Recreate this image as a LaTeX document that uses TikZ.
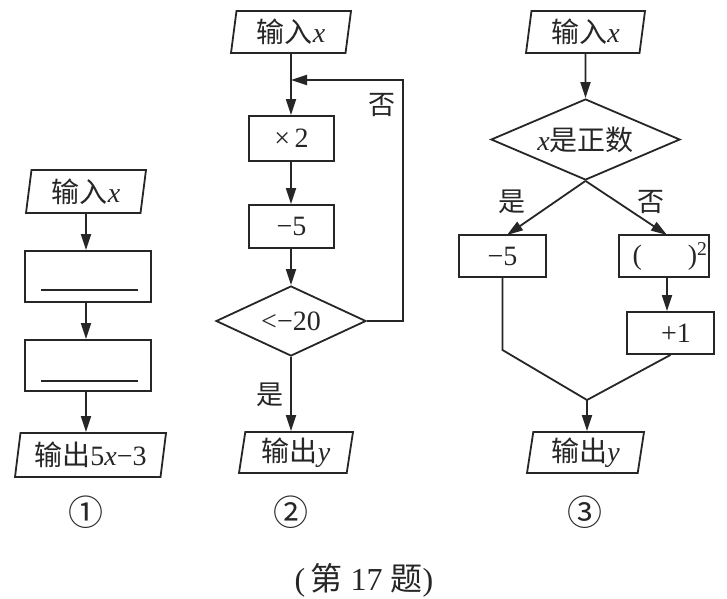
\documentclass[tikz,border=0pt]{standalone}
\usepackage{fontspec}
\setmainfont{Liberation Serif}
\newfontfamily\cjk{Noto Sans CJK SC}
\usetikzlibrary{shapes.geometric,arrows.meta,calc}
\tikzset{
  every node/.style={font=\fontsize{28}{32}\selectfont, inner sep=0pt, text=black!85},
  ln/.style={line width=1.8pt, draw=black!85},
  arr/.style={ln, -{Triangle[length=16pt,width=10pt]}},
  io/.style={ln, trapezium, trapezium left angle=78, trapezium right angle=102,
    trapezium stretches body},
  box/.style={ln, rectangle},
  dec/.style={ln, diamond, aspect=2.3},
  lbl/.style={font=\fontsize{27}{30}\selectfont\cjk},
  num/.style={font=\fontsize{35}{38}\selectfont\cjk}
}
\begin{document}
\begin{tikzpicture}[x=1pt,y=-1pt]
\useasboundingbox (0,0) rectangle (727,598);
\fill[white] (0,0) rectangle (727,598);

% ---------- diagram 1 ----------
\node[io, minimum width=120pt, minimum height=43pt] (in1) at (86,191.5) {{\cjk 输入}\textit{x}};
\node[box, minimum width=126pt, minimum height=51pt] (b1) at (88,276.5) {};
\node[box, minimum width=126pt, minimum height=51pt] (b2) at (88,365.5) {};
\node[io, minimum width=151pt, minimum height=44pt] (out1) at (90.5,455) {{\cjk 输出}5\textit{x}−3};
\draw[ln, line width=1.4pt] ($(b1.south west)+(17,-13)$) -- ($(b1.south east)+(-14,-13)$);
\draw[ln, line width=1.4pt] ($(b2.south west)+(17,-11)$) -- ($(b2.south east)+(-14,-11)$);
\draw[arr] (in1.south) -- (in1.south |- b1.north);
\draw[arr] (in1.south |- b1.south) -- (in1.south |- b2.north);
\draw[arr] (in1.south |- b2.south) -- (in1.south |- out1.north);
\node[num] (c1) at (86,512) {①};

% ---------- diagram 2 ----------
\node[io, minimum width=120pt, minimum height=42pt] (in2) at (291,32) {{\cjk 输入}\textit{x}};
\node[box, minimum width=85pt, minimum height=45pt] (x2) at (291.5,138.5) {×\,2};
\node[box, minimum width=85pt, minimum height=43pt] (m2) at (291.5,226.5) {−5};
\node[dec, minimum width=150pt, minimum height=70pt] (d2) at (291,321) {<−20};
\node[io, minimum width=114pt, minimum height=41pt] (out2) at (296,452.5) {{\cjk 输出}\textit{y}};
\coordinate (j2) at (291,80);
\coordinate (c2) at (403,321);
\coordinate (c2b) at (403,80);
\draw[arr] (in2.south) -- (in2.south |- x2.north);
\draw[arr] (in2.south |- x2.south) -- (in2.south |- m2.north);
\draw[arr] (in2.south |- m2.south) -- (d2.north);
\draw[arr] (d2.east) -- (c2) -- (c2b) -- (j2);
\draw[arr] (d2.south) -- (d2.south |- out2.north);
\node[lbl] (y2) at (270,395) {是};
\node[lbl] (n2) at (382,105) {否};
\node[num] (c2n) at (291,512) {②};

% ---------- diagram 3 ----------
\node[io, minimum width=119pt, minimum height=42pt] (in3) at (585.5,32) {{\cjk 输入}\textit{x}};
\node[dec, minimum width=189pt, minimum height=81pt] (d3) at (585.5,139.5) {\textit{x}{\cjk 是正数}};
\node[box, minimum width=87pt, minimum height=42pt] (m3) at (502.5,256) {−5\hspace{10pt}};
\node[box, minimum width=90pt, minimum height=42pt] (s3) at (664,256) {\hspace{12pt}(\hspace{46pt})\textsuperscript{2}};
\node[box, minimum width=87pt, minimum height=42pt] (p3) at (670.5,333) {\hspace{11pt}+1};
\node[io, minimum width=117pt, minimum height=41pt] (out3) at (585.5,452.5) {{\cjk 输出}\textit{y}};
\coordinate (lb) at (502.5,350);
\coordinate (mg) at (587,400);
\coordinate (s3b) at (667,277);
\coordinate (m3t) at (507,235);
\coordinate (s3t) at (667,235);
\draw[arr] (in3.south) -- (d3.north);
\draw[arr] (d3.south) -- (m3t);
\draw[arr] (d3.south) -- (s3t);
\draw[arr] (s3b) -- (s3b |- p3.north);
\draw[ln] (m3.south) -- (lb) -- (mg);
\draw[ln] (p3.south) -- (mg);
\draw[arr] (mg) -- (mg |- out3.north);
\node[lbl] (y3) at (512,202) {是};
\node[lbl] (n3) at (651,202) {否};
\node[num] (c3) at (585,512) {③};

% ---------- caption ----------
\node[font=\fontsize{32}{36}\selectfont] (cap) at (364,580) {(\,{\cjk 第} 17 {\cjk 题})};
\end{tikzpicture}
\end{document}
